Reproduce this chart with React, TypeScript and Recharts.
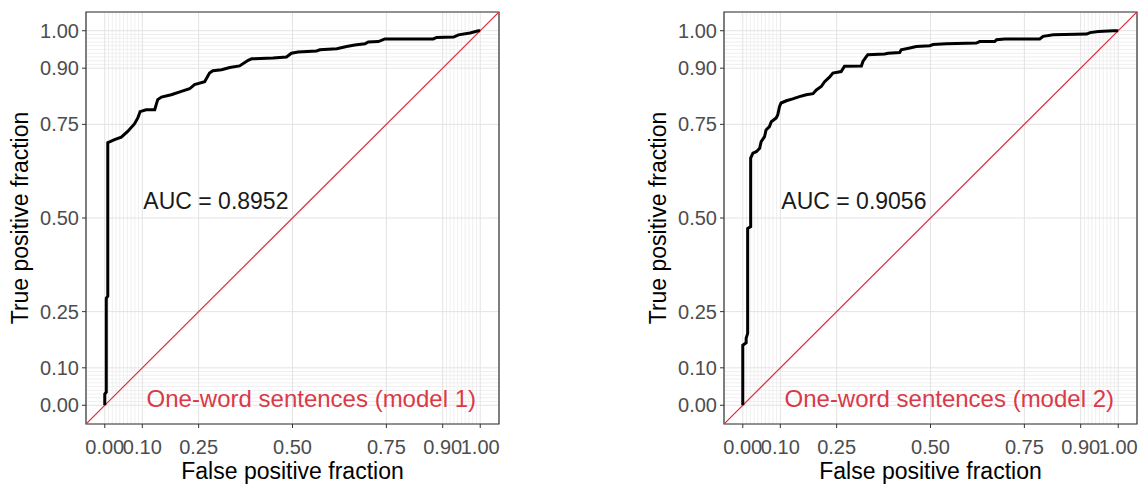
import React from 'react';
import {
  LineChart,
  Line,
  XAxis,
  YAxis,
  CartesianGrid,
  ReferenceArea,
  ReferenceDot,
} from 'recharts';

// axis breaks (same on both axes)
const BREAKS = [0, 0.1, 0.25, 0.5, 0.75, 0.9, 1];
const MINOR_BREAKS = [
  0.01, 0.02, 0.03, 0.04, 0.05, 0.06, 0.07, 0.08, 0.09,
  0.91, 0.92, 0.93, 0.94, 0.95, 0.96, 0.97, 0.98, 0.99,
];

// chance line, across the whole panel
const DIAGONAL = [
  { x: -0.05, y: -0.05 },
  { x: 1.05, y: 1.05 },
];

// model 1 ROC curve
const model1Fpf = [
  0, 0, 0.004, 0.004, 0.008, 0.008, 0.026, 0.044, 0.061, 0.079, 0.088, 0.094, 0.11, 0.133,
  0.141, 0.151, 0.177, 0.204, 0.226, 0.239, 0.266, 0.279, 0.288, 0.311, 0.333, 0.359, 0.382,
  0.391, 0.448, 0.484, 0.497, 0.515, 0.564, 0.573, 0.618, 0.644, 0.666, 0.693, 0.702, 0.729,
  0.746, 0.875, 0.884, 0.929, 0.942, 0.973, 0.995, 1,
];
const model1Tpf = [
  0, 0.03, 0.035, 0.286, 0.291, 0.701, 0.709, 0.716, 0.731, 0.751, 0.767, 0.784, 0.789, 0.789,
  0.816, 0.823, 0.829, 0.838, 0.845, 0.856, 0.864, 0.887, 0.893, 0.896, 0.902, 0.906, 0.921,
  0.925, 0.927, 0.93, 0.94, 0.943, 0.946, 0.949, 0.952, 0.958, 0.962, 0.965, 0.97, 0.971,
  0.978, 0.978, 0.982, 0.983, 0.989, 0.994, 1, 1,
];

// model 2 ROC curve
const model2Fpf = [
  0, 0, 0.009, 0.009, 0.013, 0.013, 0.021, 0.021, 0.027, 0.036, 0.045, 0.049, 0.058, 0.062,
  0.071, 0.076, 0.089, 0.093, 0.098, 0.102, 0.116, 0.133, 0.151, 0.169, 0.187, 0.196, 0.209,
  0.218, 0.231, 0.24, 0.262, 0.271, 0.316, 0.32, 0.329, 0.333, 0.378, 0.387, 0.418, 0.422,
  0.445, 0.462, 0.498, 0.507, 0.542, 0.622, 0.631, 0.671, 0.676, 0.698, 0.791, 0.8, 0.827,
  0.916, 0.925, 0.947, 0.987, 1,
];
const model2Tpf = [
  0, 0.16, 0.167, 0.179, 0.192, 0.472, 0.477, 0.66, 0.673, 0.677, 0.686, 0.704, 0.717, 0.735,
  0.744, 0.757, 0.767, 0.775, 0.798, 0.807, 0.813, 0.818, 0.824, 0.829, 0.832, 0.842, 0.851,
  0.864, 0.876, 0.887, 0.891, 0.905, 0.906, 0.918, 0.931, 0.936, 0.938, 0.94, 0.942, 0.949,
  0.954, 0.958, 0.96, 0.963, 0.965, 0.967, 0.971, 0.971, 0.976, 0.978, 0.978, 0.985, 0.989,
  0.991, 0.995, 0.998, 1, 1,
];

const RED = '#D93A49';
const LINE_RED = '#E4283A';
const FONT = '"Liberation Sans", Arial, sans-serif';

function RocPanel({ fpf, tpf, auc, caption, left, width, marginRight }: any) {
  const data = fpf.map((x: number, i: number) => ({ x, y: tpf[i] }));
  const tickStyle = { fontSize: 20, fill: '#4D4D4D', fontFamily: FONT };
  return (
    <div style={{ position: 'absolute', left, top: 0 }}>
      <LineChart width={width} height={484} margin={{ top: 12, right: marginRight, bottom: 20, left: 10 }}>
        <CartesianGrid stroke="#EFEFEF" horizontalValues={MINOR_BREAKS} verticalValues={MINOR_BREAKS} />
        <CartesianGrid stroke="#E3E3E3" />
        <XAxis
          dataKey="x"
          type="number"
          domain={[-0.05, 1.05]}
          ticks={BREAKS}
          interval={0}
          allowDataOverflow
          tickFormatter={(v: number) => v.toFixed(2)}
          axisLine={false}
          tickLine={{ stroke: '#333333' }}
          tickSize={4}
          tickMargin={12}
          height={40}
          tick={tickStyle}
        />
        <YAxis
          type="number"
          domain={[-0.05, 1.05]}
          ticks={BREAKS}
          interval={0}
          allowDataOverflow
          tickFormatter={(v: number) => v.toFixed(2)}
          axisLine={false}
          tickLine={{ stroke: '#333333' }}
          tickSize={4}
          tickMargin={3}
          width={76}
          tick={tickStyle}
        />
        <Line
          data={DIAGONAL}
          dataKey="y"
          type="linear"
          stroke={LINE_RED}
          strokeWidth={1.2}
          dot={false}
          isAnimationActive={false}
        />
        <Line
          data={data}
          dataKey="y"
          type="linear"
          stroke="#000000"
          strokeWidth={3}
          dot={false}
          isAnimationActive={false}
        />
        <ReferenceArea x1={-0.05} x2={1.05} y1={-0.05} y2={1.05} fill="none" stroke="#333333" strokeWidth={1.2} />
        <ReferenceDot
          x={0.1}
          y={0.545}
          r={1}
          fill="none"
          stroke="none"
          label={{ value: auc, position: 'right', offset: 0, fontSize: 23, fill: '#1A1A1A', fontFamily: FONT }}
        />
        <ReferenceDot
          x={0.55}
          y={0.018}
          r={1}
          fill="none"
          stroke="none"
          label={{ value: caption, position: 'center', fontSize: 24, fill: RED, fontFamily: FONT }}
        />
      </LineChart>
    </div>
  );
}

export default function App() {
  return (
    <div
      style={{
        position: 'fixed',
        left: 0,
        top: 0,
        width: 1139,
        height: 484,
        background: '#fff',
        overflow: 'hidden',
        fontFamily: FONT,
      }}
    >
      <RocPanel
        fpf={model1Fpf}
        tpf={model1Tpf}
        auc="AUC = 0.8952"
        caption="One-word sentences (model 1)"
        left={0}
        width={520}
        marginRight={21}
      />
      <RocPanel
        fpf={model2Fpf}
        tpf={model2Tpf}
        auc="AUC = 0.9056"
        caption="One-word sentences (model 2)"
        left={638}
        width={501}
        marginRight={2}
      />
      {/* axis titles */}
      <svg width={1139} height={484} style={{ position: 'absolute', left: 0, top: 0, pointerEvents: 'none' }}>
        <g fontFamily={FONT} fontSize={23} fill="#000">
          <text x={292.5} y={479} textAnchor="middle">False positive fraction</text>
          <text transform="translate(28,218) rotate(-90)" textAnchor="middle">True positive fraction</text>
          <text x={930.5} y={479} textAnchor="middle">False positive fraction</text>
          <text transform="translate(666,218) rotate(-90)" textAnchor="middle">True positive fraction</text>
        </g>
      </svg>
    </div>
  );
}
